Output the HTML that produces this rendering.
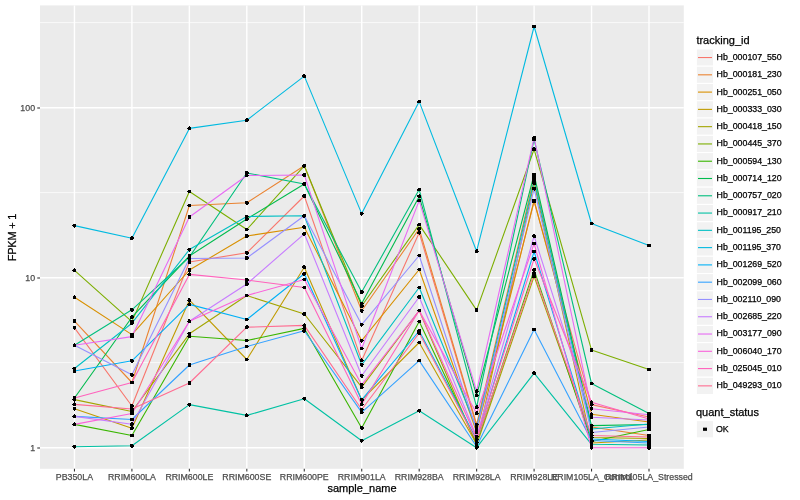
<!DOCTYPE html><html><head><meta charset="utf-8"><style>
html,body{margin:0;padding:0;background:#fff;width:800px;height:500px;overflow:hidden}
svg{display:block;will-change:transform}g.ax text{stroke:#4D4D4D}text{font-family:"Liberation Sans",sans-serif;stroke:#000;stroke-width:0.25px}
</style></head><body>
<svg width="800" height="500" viewBox="0 0 800 500">
<rect x="0" y="0" width="800" height="500" fill="#fff"/>
<rect x="40" y="5.4" width="643.8" height="463.40000000000003" fill="#EBEBEB"/>
<line x1="40" x2="683.8" y1="362.6" y2="362.6" stroke="#fff" stroke-width="0.71"/>
<line x1="40" x2="683.8" y1="192.6" y2="192.6" stroke="#fff" stroke-width="0.71"/>
<line x1="40" x2="683.8" y1="22.6" y2="22.6" stroke="#fff" stroke-width="0.71"/>
<line x1="40" x2="683.8" y1="447.7" y2="447.7" stroke="#fff" stroke-width="1.42"/>
<line x1="40" x2="683.8" y1="277.7" y2="277.7" stroke="#fff" stroke-width="1.42"/>
<line x1="40" x2="683.8" y1="107.7" y2="107.7" stroke="#fff" stroke-width="1.42"/>
<line x1="74.45" x2="74.45" y1="5.4" y2="468.8" stroke="#fff" stroke-width="1.42"/>
<line x1="131.905" x2="131.905" y1="5.4" y2="468.8" stroke="#fff" stroke-width="1.42"/>
<line x1="189.36" x2="189.36" y1="5.4" y2="468.8" stroke="#fff" stroke-width="1.42"/>
<line x1="246.815" x2="246.815" y1="5.4" y2="468.8" stroke="#fff" stroke-width="1.42"/>
<line x1="304.27" x2="304.27" y1="5.4" y2="468.8" stroke="#fff" stroke-width="1.42"/>
<line x1="361.72499999999997" x2="361.72499999999997" y1="5.4" y2="468.8" stroke="#fff" stroke-width="1.42"/>
<line x1="419.18" x2="419.18" y1="5.4" y2="468.8" stroke="#fff" stroke-width="1.42"/>
<line x1="476.635" x2="476.635" y1="5.4" y2="468.8" stroke="#fff" stroke-width="1.42"/>
<line x1="534.09" x2="534.09" y1="5.4" y2="468.8" stroke="#fff" stroke-width="1.42"/>
<line x1="591.5450000000001" x2="591.5450000000001" y1="5.4" y2="468.8" stroke="#fff" stroke-width="1.42"/>
<line x1="649.0" x2="649.0" y1="5.4" y2="468.8" stroke="#fff" stroke-width="1.42"/>
<g fill="none" stroke-width="1.1" stroke-linejoin="round" stroke-linecap="butt">
<polyline points="74.5,327.8 131.9,406.0 189.4,262.0 246.8,252.8 304.3,196.0 361.7,360.4 419.2,232.7 476.6,426.0 534.1,201.5 591.5,404.6 649.0,417.0" stroke="#F8766D"/>
<polyline points="74.5,321.1 131.9,382.5 189.4,205.5 246.8,202.8 304.3,165.8 361.7,310.8 419.2,228.8 476.6,424.5 534.1,177.5 591.5,427.0 649.0,435.5" stroke="#EA8331"/>
<polyline points="74.5,297.3 131.9,334.6 189.4,270.0 246.8,236.0 304.3,227.2 361.7,340.7 419.2,269.5 476.6,432.0 534.1,200.5 591.5,414.2 649.0,422.0" stroke="#D89000"/>
<polyline points="74.5,408.8 131.9,428.3 189.4,300.2 246.8,359.5 304.3,267.2 361.7,399.9 419.2,342.5 476.6,444.0 534.1,183.0 591.5,443.0 649.0,440.0" stroke="#C09B00"/>
<polyline points="74.5,399.6 131.9,411.5 189.4,333.8 246.8,295.5 304.3,314.0 361.7,387.2 419.2,310.5 476.6,445.0 534.1,276.4 591.5,437.5 649.0,438.5" stroke="#A3A500"/>
<polyline points="74.5,270.4 131.9,321.6 189.4,191.5 246.8,229.5 304.3,165.8 361.7,306.0 419.2,224.6 476.6,310.1 534.1,149.3 591.5,349.9 649.0,369.6" stroke="#7CAE00"/>
<polyline points="74.5,424.4 131.9,435.5 189.4,336.2 246.8,340.5 304.3,328.4 361.7,427.9 419.2,321.5 476.6,442.5 534.1,269.8 591.5,441.5 649.0,429.5" stroke="#39B600"/>
<polyline points="74.5,398.0 131.9,317.2 189.4,256.0 246.8,219.0 304.3,184.0 361.7,303.6 419.2,196.4 476.6,395.4 534.1,174.5 591.5,425.6 649.0,424.5" stroke="#00BB4E"/>
<polyline points="74.5,345.3 131.9,309.8 189.4,257.0 246.8,173.0 304.3,184.0 361.7,292.0 419.2,189.6 476.6,407.2 534.1,139.5 591.5,383.5 649.0,413.5" stroke="#00BF7D"/>
<polyline points="74.5,446.7 131.9,445.8 189.4,404.6 246.8,415.4 304.3,398.7 361.7,440.7 419.2,410.7 476.6,447.7 534.1,373.2 591.5,444.3 649.0,445.0" stroke="#00C1A3"/>
<polyline points="74.5,368.5 131.9,323.2 189.4,249.6 246.8,216.5 304.3,215.8 361.7,364.8 419.2,287.5 476.6,428.0 534.1,180.5 591.5,429.0 649.0,424.0" stroke="#00BFC4"/>
<polyline points="74.5,225.6 131.9,238.3 189.4,128.4 246.8,120.2 304.3,76.1 361.7,213.6 419.2,101.6 476.6,251.2 534.1,26.5 591.5,223.5 649.0,245.6" stroke="#00BAE0"/>
<polyline points="74.5,371.0 131.9,360.8 189.4,304.4 246.8,319.5 304.3,273.8 361.7,399.9 419.2,331.0 476.6,439.5 534.1,251.6 591.5,439.0 649.0,441.5" stroke="#00B0F6"/>
<polyline points="74.5,416.4 131.9,419.5 189.4,365.0 246.8,346.5 304.3,330.8 361.7,412.4 419.2,360.6 476.6,446.5 534.1,329.5 591.5,440.5 649.0,443.0" stroke="#35A2FF"/>
<polyline points="74.5,345.3 131.9,374.8 189.4,258.5 246.8,258.0 304.3,215.8 361.7,324.7 419.2,255.5 476.6,430.0 534.1,188.7 591.5,432.5 649.0,427.0" stroke="#9590FF"/>
<polyline points="74.5,416.4 131.9,424.2 189.4,321.2 246.8,284.0 304.3,233.8 361.7,375.8 419.2,297.0 476.6,436.5 534.1,236.2 591.5,417.2 649.0,420.0" stroke="#C77CFF"/>
<polyline points="74.5,345.3 131.9,336.6 189.4,217.0 246.8,175.5 304.3,175.0 361.7,348.5 419.2,200.6 476.6,391.2 534.1,137.9 591.5,408.8 649.0,414.8" stroke="#E76BF3"/>
<polyline points="74.5,424.4 131.9,413.5 189.4,321.2 246.8,295.5 304.3,279.5 361.7,384.8 419.2,310.5 476.6,413.2 534.1,243.6 591.5,447.7 649.0,447.7" stroke="#FA62DB"/>
<polyline points="74.5,398.0 131.9,382.5 189.4,274.4 246.8,280.0 304.3,287.5 361.7,404.2 419.2,310.5 476.6,438.0 534.1,258.8 591.5,402.2 649.0,419.0" stroke="#FF62BC"/>
<polyline points="74.5,404.4 131.9,409.0 189.4,383.0 246.8,327.2 304.3,325.4 361.7,409.5 419.2,333.0 476.6,441.0 534.1,273.4 591.5,435.5 649.0,437.0" stroke="#FF6C91"/>
</g>
<g fill="#000" shape-rendering="crispEdges">
<circle cx="74.45" cy="327.80" r="2.0"/>
<circle cx="131.91" cy="406.00" r="2.0"/>
<circle cx="189.36" cy="262.00" r="2.0"/>
<circle cx="246.81" cy="252.80" r="2.0"/>
<circle cx="304.27" cy="196.00" r="2.0"/>
<circle cx="361.72" cy="360.40" r="2.0"/>
<circle cx="419.18" cy="232.70" r="2.0"/>
<circle cx="476.63" cy="426.00" r="2.0"/>
<circle cx="534.09" cy="201.50" r="2.0"/>
<circle cx="591.55" cy="404.60" r="2.0"/>
<circle cx="649.00" cy="417.00" r="2.0"/>
<circle cx="74.45" cy="321.10" r="2.0"/>
<circle cx="131.91" cy="382.50" r="2.0"/>
<circle cx="189.36" cy="205.50" r="2.0"/>
<circle cx="246.81" cy="202.80" r="2.0"/>
<circle cx="304.27" cy="165.80" r="2.0"/>
<circle cx="361.72" cy="310.80" r="2.0"/>
<circle cx="419.18" cy="228.80" r="2.0"/>
<circle cx="476.63" cy="424.50" r="2.0"/>
<circle cx="534.09" cy="177.50" r="2.0"/>
<circle cx="591.55" cy="427.00" r="2.0"/>
<circle cx="649.00" cy="435.50" r="2.0"/>
<circle cx="74.45" cy="297.30" r="2.0"/>
<circle cx="131.91" cy="334.60" r="2.0"/>
<circle cx="189.36" cy="270.00" r="2.0"/>
<circle cx="246.81" cy="236.00" r="2.0"/>
<circle cx="304.27" cy="227.20" r="2.0"/>
<circle cx="361.72" cy="340.70" r="2.0"/>
<circle cx="419.18" cy="269.50" r="2.0"/>
<circle cx="476.63" cy="432.00" r="2.0"/>
<circle cx="534.09" cy="200.50" r="2.0"/>
<circle cx="591.55" cy="414.20" r="2.0"/>
<circle cx="649.00" cy="422.00" r="2.0"/>
<circle cx="74.45" cy="408.80" r="2.0"/>
<circle cx="131.91" cy="428.30" r="2.0"/>
<circle cx="189.36" cy="300.20" r="2.0"/>
<circle cx="246.81" cy="359.50" r="2.0"/>
<circle cx="304.27" cy="267.20" r="2.0"/>
<circle cx="361.72" cy="399.90" r="2.0"/>
<circle cx="419.18" cy="342.50" r="2.0"/>
<circle cx="476.63" cy="444.00" r="2.0"/>
<circle cx="534.09" cy="183.00" r="2.0"/>
<circle cx="591.55" cy="443.00" r="2.0"/>
<circle cx="649.00" cy="440.00" r="2.0"/>
<circle cx="74.45" cy="399.60" r="2.0"/>
<circle cx="131.91" cy="411.50" r="2.0"/>
<circle cx="189.36" cy="333.80" r="2.0"/>
<circle cx="246.81" cy="295.50" r="2.0"/>
<circle cx="304.27" cy="314.00" r="2.0"/>
<circle cx="361.72" cy="387.20" r="2.0"/>
<circle cx="419.18" cy="310.50" r="2.0"/>
<circle cx="476.63" cy="445.00" r="2.0"/>
<circle cx="534.09" cy="276.40" r="2.0"/>
<circle cx="591.55" cy="437.50" r="2.0"/>
<circle cx="649.00" cy="438.50" r="2.0"/>
<circle cx="74.45" cy="270.40" r="2.0"/>
<circle cx="131.91" cy="321.60" r="2.0"/>
<circle cx="189.36" cy="191.50" r="2.0"/>
<circle cx="246.81" cy="229.50" r="2.0"/>
<circle cx="304.27" cy="165.80" r="2.0"/>
<circle cx="361.72" cy="306.00" r="2.0"/>
<circle cx="419.18" cy="224.60" r="2.0"/>
<circle cx="476.63" cy="310.10" r="2.0"/>
<circle cx="534.09" cy="149.30" r="2.0"/>
<circle cx="591.55" cy="349.90" r="2.0"/>
<circle cx="649.00" cy="369.60" r="2.0"/>
<circle cx="74.45" cy="424.40" r="2.0"/>
<circle cx="131.91" cy="435.50" r="2.0"/>
<circle cx="189.36" cy="336.20" r="2.0"/>
<circle cx="246.81" cy="340.50" r="2.0"/>
<circle cx="304.27" cy="328.40" r="2.0"/>
<circle cx="361.72" cy="427.90" r="2.0"/>
<circle cx="419.18" cy="321.50" r="2.0"/>
<circle cx="476.63" cy="442.50" r="2.0"/>
<circle cx="534.09" cy="269.80" r="2.0"/>
<circle cx="591.55" cy="441.50" r="2.0"/>
<circle cx="649.00" cy="429.50" r="2.0"/>
<circle cx="74.45" cy="398.00" r="2.0"/>
<circle cx="131.91" cy="317.20" r="2.0"/>
<circle cx="189.36" cy="256.00" r="2.0"/>
<circle cx="246.81" cy="219.00" r="2.0"/>
<circle cx="304.27" cy="184.00" r="2.0"/>
<circle cx="361.72" cy="303.60" r="2.0"/>
<circle cx="419.18" cy="196.40" r="2.0"/>
<circle cx="476.63" cy="395.40" r="2.0"/>
<circle cx="534.09" cy="174.50" r="2.0"/>
<circle cx="591.55" cy="425.60" r="2.0"/>
<circle cx="649.00" cy="424.50" r="2.0"/>
<circle cx="74.45" cy="345.30" r="2.0"/>
<circle cx="131.91" cy="309.80" r="2.0"/>
<circle cx="189.36" cy="257.00" r="2.0"/>
<circle cx="246.81" cy="173.00" r="2.0"/>
<circle cx="304.27" cy="184.00" r="2.0"/>
<circle cx="361.72" cy="292.00" r="2.0"/>
<circle cx="419.18" cy="189.60" r="2.0"/>
<circle cx="476.63" cy="407.20" r="2.0"/>
<circle cx="534.09" cy="139.50" r="2.0"/>
<circle cx="591.55" cy="383.50" r="2.0"/>
<circle cx="649.00" cy="413.50" r="2.0"/>
<circle cx="74.45" cy="446.70" r="2.0"/>
<circle cx="131.91" cy="445.80" r="2.0"/>
<circle cx="189.36" cy="404.60" r="2.0"/>
<circle cx="246.81" cy="415.40" r="2.0"/>
<circle cx="304.27" cy="398.70" r="2.0"/>
<circle cx="361.72" cy="440.70" r="2.0"/>
<circle cx="419.18" cy="410.70" r="2.0"/>
<circle cx="476.63" cy="447.70" r="2.0"/>
<circle cx="534.09" cy="373.20" r="2.0"/>
<circle cx="591.55" cy="444.30" r="2.0"/>
<circle cx="649.00" cy="445.00" r="2.0"/>
<circle cx="74.45" cy="368.50" r="2.0"/>
<circle cx="131.91" cy="323.20" r="2.0"/>
<circle cx="189.36" cy="249.60" r="2.0"/>
<circle cx="246.81" cy="216.50" r="2.0"/>
<circle cx="304.27" cy="215.80" r="2.0"/>
<circle cx="361.72" cy="364.80" r="2.0"/>
<circle cx="419.18" cy="287.50" r="2.0"/>
<circle cx="476.63" cy="428.00" r="2.0"/>
<circle cx="534.09" cy="180.50" r="2.0"/>
<circle cx="591.55" cy="429.00" r="2.0"/>
<circle cx="649.00" cy="424.00" r="2.0"/>
<circle cx="74.45" cy="225.60" r="2.0"/>
<circle cx="131.91" cy="238.30" r="2.0"/>
<circle cx="189.36" cy="128.40" r="2.0"/>
<circle cx="246.81" cy="120.20" r="2.0"/>
<circle cx="304.27" cy="76.10" r="2.0"/>
<circle cx="361.72" cy="213.60" r="2.0"/>
<circle cx="419.18" cy="101.60" r="2.0"/>
<circle cx="476.63" cy="251.20" r="2.0"/>
<circle cx="534.09" cy="26.50" r="2.0"/>
<circle cx="591.55" cy="223.50" r="2.0"/>
<circle cx="649.00" cy="245.60" r="2.0"/>
<circle cx="74.45" cy="371.00" r="2.0"/>
<circle cx="131.91" cy="360.80" r="2.0"/>
<circle cx="189.36" cy="304.40" r="2.0"/>
<circle cx="246.81" cy="319.50" r="2.0"/>
<circle cx="304.27" cy="273.80" r="2.0"/>
<circle cx="361.72" cy="399.90" r="2.0"/>
<circle cx="419.18" cy="331.00" r="2.0"/>
<circle cx="476.63" cy="439.50" r="2.0"/>
<circle cx="534.09" cy="251.60" r="2.0"/>
<circle cx="591.55" cy="439.00" r="2.0"/>
<circle cx="649.00" cy="441.50" r="2.0"/>
<circle cx="74.45" cy="416.40" r="2.0"/>
<circle cx="131.91" cy="419.50" r="2.0"/>
<circle cx="189.36" cy="365.00" r="2.0"/>
<circle cx="246.81" cy="346.50" r="2.0"/>
<circle cx="304.27" cy="330.80" r="2.0"/>
<circle cx="361.72" cy="412.40" r="2.0"/>
<circle cx="419.18" cy="360.60" r="2.0"/>
<circle cx="476.63" cy="446.50" r="2.0"/>
<circle cx="534.09" cy="329.50" r="2.0"/>
<circle cx="591.55" cy="440.50" r="2.0"/>
<circle cx="649.00" cy="443.00" r="2.0"/>
<circle cx="74.45" cy="345.30" r="2.0"/>
<circle cx="131.91" cy="374.80" r="2.0"/>
<circle cx="189.36" cy="258.50" r="2.0"/>
<circle cx="246.81" cy="258.00" r="2.0"/>
<circle cx="304.27" cy="215.80" r="2.0"/>
<circle cx="361.72" cy="324.70" r="2.0"/>
<circle cx="419.18" cy="255.50" r="2.0"/>
<circle cx="476.63" cy="430.00" r="2.0"/>
<circle cx="534.09" cy="188.70" r="2.0"/>
<circle cx="591.55" cy="432.50" r="2.0"/>
<circle cx="649.00" cy="427.00" r="2.0"/>
<circle cx="74.45" cy="416.40" r="2.0"/>
<circle cx="131.91" cy="424.20" r="2.0"/>
<circle cx="189.36" cy="321.20" r="2.0"/>
<circle cx="246.81" cy="284.00" r="2.0"/>
<circle cx="304.27" cy="233.80" r="2.0"/>
<circle cx="361.72" cy="375.80" r="2.0"/>
<circle cx="419.18" cy="297.00" r="2.0"/>
<circle cx="476.63" cy="436.50" r="2.0"/>
<circle cx="534.09" cy="236.20" r="2.0"/>
<circle cx="591.55" cy="417.20" r="2.0"/>
<circle cx="649.00" cy="420.00" r="2.0"/>
<circle cx="74.45" cy="345.30" r="2.0"/>
<circle cx="131.91" cy="336.60" r="2.0"/>
<circle cx="189.36" cy="217.00" r="2.0"/>
<circle cx="246.81" cy="175.50" r="2.0"/>
<circle cx="304.27" cy="175.00" r="2.0"/>
<circle cx="361.72" cy="348.50" r="2.0"/>
<circle cx="419.18" cy="200.60" r="2.0"/>
<circle cx="476.63" cy="391.20" r="2.0"/>
<circle cx="534.09" cy="137.90" r="2.0"/>
<circle cx="591.55" cy="408.80" r="2.0"/>
<circle cx="649.00" cy="414.80" r="2.0"/>
<circle cx="74.45" cy="424.40" r="2.0"/>
<circle cx="131.91" cy="413.50" r="2.0"/>
<circle cx="189.36" cy="321.20" r="2.0"/>
<circle cx="246.81" cy="295.50" r="2.0"/>
<circle cx="304.27" cy="279.50" r="2.0"/>
<circle cx="361.72" cy="384.80" r="2.0"/>
<circle cx="419.18" cy="310.50" r="2.0"/>
<circle cx="476.63" cy="413.20" r="2.0"/>
<circle cx="534.09" cy="243.60" r="2.0"/>
<circle cx="591.55" cy="447.70" r="2.0"/>
<circle cx="649.00" cy="447.70" r="2.0"/>
<circle cx="74.45" cy="398.00" r="2.0"/>
<circle cx="131.91" cy="382.50" r="2.0"/>
<circle cx="189.36" cy="274.40" r="2.0"/>
<circle cx="246.81" cy="280.00" r="2.0"/>
<circle cx="304.27" cy="287.50" r="2.0"/>
<circle cx="361.72" cy="404.20" r="2.0"/>
<circle cx="419.18" cy="310.50" r="2.0"/>
<circle cx="476.63" cy="438.00" r="2.0"/>
<circle cx="534.09" cy="258.80" r="2.0"/>
<circle cx="591.55" cy="402.20" r="2.0"/>
<circle cx="649.00" cy="419.00" r="2.0"/>
<circle cx="74.45" cy="404.40" r="2.0"/>
<circle cx="131.91" cy="409.00" r="2.0"/>
<circle cx="189.36" cy="383.00" r="2.0"/>
<circle cx="246.81" cy="327.20" r="2.0"/>
<circle cx="304.27" cy="325.40" r="2.0"/>
<circle cx="361.72" cy="409.50" r="2.0"/>
<circle cx="419.18" cy="333.00" r="2.0"/>
<circle cx="476.63" cy="441.00" r="2.0"/>
<circle cx="534.09" cy="273.40" r="2.0"/>
<circle cx="591.55" cy="435.50" r="2.0"/>
<circle cx="649.00" cy="437.00" r="2.0"/>
</g>
<g stroke="#333" stroke-width="1.07">
<line x1="37.25" x2="40" y1="448" y2="448"/>
<line x1="37.25" x2="40" y1="278" y2="278"/>
<line x1="37.25" x2="40" y1="108" y2="108"/>
<line x1="74.45" x2="74.45" y1="468.8" y2="471.55"/>
<line x1="131.905" x2="131.905" y1="468.8" y2="471.55"/>
<line x1="189.36" x2="189.36" y1="468.8" y2="471.55"/>
<line x1="246.815" x2="246.815" y1="468.8" y2="471.55"/>
<line x1="304.27" x2="304.27" y1="468.8" y2="471.55"/>
<line x1="361.72499999999997" x2="361.72499999999997" y1="468.8" y2="471.55"/>
<line x1="419.18" x2="419.18" y1="468.8" y2="471.55"/>
<line x1="476.635" x2="476.635" y1="468.8" y2="471.55"/>
<line x1="534.09" x2="534.09" y1="468.8" y2="471.55"/>
<line x1="591.5450000000001" x2="591.5450000000001" y1="468.8" y2="471.55"/>
<line x1="649.0" x2="649.0" y1="468.8" y2="471.55"/>
</g>
<g fill="#4D4D4D" font-size="8.8px" class="ax">
<text x="35.05" y="451.15" text-anchor="end">1</text>
<text x="35.05" y="281.15" text-anchor="end">10</text>
<text x="35.05" y="111.15" text-anchor="end">100</text>
<text x="74.45" y="480.2" text-anchor="middle">PB350LA</text>
<text x="131.905" y="480.2" text-anchor="middle">RRIM600LA</text>
<text x="189.36" y="480.2" text-anchor="middle">RRIM600LE</text>
<text x="246.815" y="480.2" text-anchor="middle">RRIM600SE</text>
<text x="304.27" y="480.2" text-anchor="middle">RRIM600PE</text>
<text x="361.72499999999997" y="480.2" text-anchor="middle">RRIM901LA</text>
<text x="419.18" y="480.2" text-anchor="middle">RRIM928BA</text>
<text x="476.635" y="480.2" text-anchor="middle">RRIM928LA</text>
<text x="534.09" y="480.2" text-anchor="middle">RRIM928LE</text>
<text x="591.5450000000001" y="480.2" text-anchor="middle">RRIM105LA_Control</text>
<text x="649.0" y="480.2" text-anchor="middle">RRIM105LA_Stressed</text>
</g>
<text x="362" y="492.3" text-anchor="middle" font-size="11px" fill="#000">sample_name</text>
<text transform="translate(16.3,237.6) rotate(-90)" x="0" y="0" text-anchor="middle" font-size="11px" letter-spacing="-0.25px" fill="#000">FPKM + 1</text>
<text x="696.4" y="44" font-size="11px" fill="#000">tracking_id</text>
<rect x="696.3" y="48.90" width="17.28" height="17.28" fill="#F2F2F2" stroke="#fff" stroke-width="1.07"/>
<line x1="698.0" x2="712.0" y1="57.54" y2="57.54" stroke="#F8766D" stroke-width="1.1"/>
<text x="716.6" y="59.94" font-size="8.8px" fill="#000">Hb_000107_550</text>
<rect x="696.3" y="66.18" width="17.28" height="17.28" fill="#F2F2F2" stroke="#fff" stroke-width="1.07"/>
<line x1="698.0" x2="712.0" y1="74.82" y2="74.82" stroke="#EA8331" stroke-width="1.1"/>
<text x="716.6" y="77.22" font-size="8.8px" fill="#000">Hb_000181_230</text>
<rect x="696.3" y="83.46" width="17.28" height="17.28" fill="#F2F2F2" stroke="#fff" stroke-width="1.07"/>
<line x1="698.0" x2="712.0" y1="92.10" y2="92.10" stroke="#D89000" stroke-width="1.1"/>
<text x="716.6" y="94.50" font-size="8.8px" fill="#000">Hb_000251_050</text>
<rect x="696.3" y="100.74" width="17.28" height="17.28" fill="#F2F2F2" stroke="#fff" stroke-width="1.07"/>
<line x1="698.0" x2="712.0" y1="109.38" y2="109.38" stroke="#C09B00" stroke-width="1.1"/>
<text x="716.6" y="111.78" font-size="8.8px" fill="#000">Hb_000333_030</text>
<rect x="696.3" y="118.02" width="17.28" height="17.28" fill="#F2F2F2" stroke="#fff" stroke-width="1.07"/>
<line x1="698.0" x2="712.0" y1="126.66" y2="126.66" stroke="#A3A500" stroke-width="1.1"/>
<text x="716.6" y="129.06" font-size="8.8px" fill="#000">Hb_000418_150</text>
<rect x="696.3" y="135.30" width="17.28" height="17.28" fill="#F2F2F2" stroke="#fff" stroke-width="1.07"/>
<line x1="698.0" x2="712.0" y1="143.94" y2="143.94" stroke="#7CAE00" stroke-width="1.1"/>
<text x="716.6" y="146.34" font-size="8.8px" fill="#000">Hb_000445_370</text>
<rect x="696.3" y="152.58" width="17.28" height="17.28" fill="#F2F2F2" stroke="#fff" stroke-width="1.07"/>
<line x1="698.0" x2="712.0" y1="161.22" y2="161.22" stroke="#39B600" stroke-width="1.1"/>
<text x="716.6" y="163.62" font-size="8.8px" fill="#000">Hb_000594_130</text>
<rect x="696.3" y="169.86" width="17.28" height="17.28" fill="#F2F2F2" stroke="#fff" stroke-width="1.07"/>
<line x1="698.0" x2="712.0" y1="178.50" y2="178.50" stroke="#00BB4E" stroke-width="1.1"/>
<text x="716.6" y="180.90" font-size="8.8px" fill="#000">Hb_000714_120</text>
<rect x="696.3" y="187.14" width="17.28" height="17.28" fill="#F2F2F2" stroke="#fff" stroke-width="1.07"/>
<line x1="698.0" x2="712.0" y1="195.78" y2="195.78" stroke="#00BF7D" stroke-width="1.1"/>
<text x="716.6" y="198.18" font-size="8.8px" fill="#000">Hb_000757_020</text>
<rect x="696.3" y="204.42" width="17.28" height="17.28" fill="#F2F2F2" stroke="#fff" stroke-width="1.07"/>
<line x1="698.0" x2="712.0" y1="213.06" y2="213.06" stroke="#00C1A3" stroke-width="1.1"/>
<text x="716.6" y="215.46" font-size="8.8px" fill="#000">Hb_000917_210</text>
<rect x="696.3" y="221.70" width="17.28" height="17.28" fill="#F2F2F2" stroke="#fff" stroke-width="1.07"/>
<line x1="698.0" x2="712.0" y1="230.34" y2="230.34" stroke="#00BFC4" stroke-width="1.1"/>
<text x="716.6" y="232.74" font-size="8.8px" fill="#000">Hb_001195_250</text>
<rect x="696.3" y="238.98" width="17.28" height="17.28" fill="#F2F2F2" stroke="#fff" stroke-width="1.07"/>
<line x1="698.0" x2="712.0" y1="247.62" y2="247.62" stroke="#00BAE0" stroke-width="1.1"/>
<text x="716.6" y="250.02" font-size="8.8px" fill="#000">Hb_001195_370</text>
<rect x="696.3" y="256.26" width="17.28" height="17.28" fill="#F2F2F2" stroke="#fff" stroke-width="1.07"/>
<line x1="698.0" x2="712.0" y1="264.90" y2="264.90" stroke="#00B0F6" stroke-width="1.1"/>
<text x="716.6" y="267.30" font-size="8.8px" fill="#000">Hb_001269_520</text>
<rect x="696.3" y="273.54" width="17.28" height="17.28" fill="#F2F2F2" stroke="#fff" stroke-width="1.07"/>
<line x1="698.0" x2="712.0" y1="282.18" y2="282.18" stroke="#35A2FF" stroke-width="1.1"/>
<text x="716.6" y="284.58" font-size="8.8px" fill="#000">Hb_002099_060</text>
<rect x="696.3" y="290.82" width="17.28" height="17.28" fill="#F2F2F2" stroke="#fff" stroke-width="1.07"/>
<line x1="698.0" x2="712.0" y1="299.46" y2="299.46" stroke="#9590FF" stroke-width="1.1"/>
<text x="716.6" y="301.86" font-size="8.8px" fill="#000">Hb_002110_090</text>
<rect x="696.3" y="308.10" width="17.28" height="17.28" fill="#F2F2F2" stroke="#fff" stroke-width="1.07"/>
<line x1="698.0" x2="712.0" y1="316.74" y2="316.74" stroke="#C77CFF" stroke-width="1.1"/>
<text x="716.6" y="319.14" font-size="8.8px" fill="#000">Hb_002685_220</text>
<rect x="696.3" y="325.38" width="17.28" height="17.28" fill="#F2F2F2" stroke="#fff" stroke-width="1.07"/>
<line x1="698.0" x2="712.0" y1="334.02" y2="334.02" stroke="#E76BF3" stroke-width="1.1"/>
<text x="716.6" y="336.42" font-size="8.8px" fill="#000">Hb_003177_090</text>
<rect x="696.3" y="342.66" width="17.28" height="17.28" fill="#F2F2F2" stroke="#fff" stroke-width="1.07"/>
<line x1="698.0" x2="712.0" y1="351.30" y2="351.30" stroke="#FA62DB" stroke-width="1.1"/>
<text x="716.6" y="353.70" font-size="8.8px" fill="#000">Hb_006040_170</text>
<rect x="696.3" y="359.94" width="17.28" height="17.28" fill="#F2F2F2" stroke="#fff" stroke-width="1.07"/>
<line x1="698.0" x2="712.0" y1="368.58" y2="368.58" stroke="#FF62BC" stroke-width="1.1"/>
<text x="716.6" y="370.98" font-size="8.8px" fill="#000">Hb_025045_010</text>
<rect x="696.3" y="377.22" width="17.28" height="17.28" fill="#F2F2F2" stroke="#fff" stroke-width="1.07"/>
<line x1="698.0" x2="712.0" y1="385.86" y2="385.86" stroke="#FF6C91" stroke-width="1.1"/>
<text x="716.6" y="388.26" font-size="8.8px" fill="#000">Hb_049293_010</text>
<text x="696.0" y="416" font-size="11px" fill="#000">quant_status</text>
<rect x="696.3" y="420.6" width="17.28" height="17.28" fill="#F2F2F2" stroke="#fff" stroke-width="1.07"/>
<rect x="703" y="427.64" width="4" height="3.2" fill="#000"/>
<text x="716.0" y="431.84" font-size="8.8px" fill="#000">OK</text>
</svg></body></html>
